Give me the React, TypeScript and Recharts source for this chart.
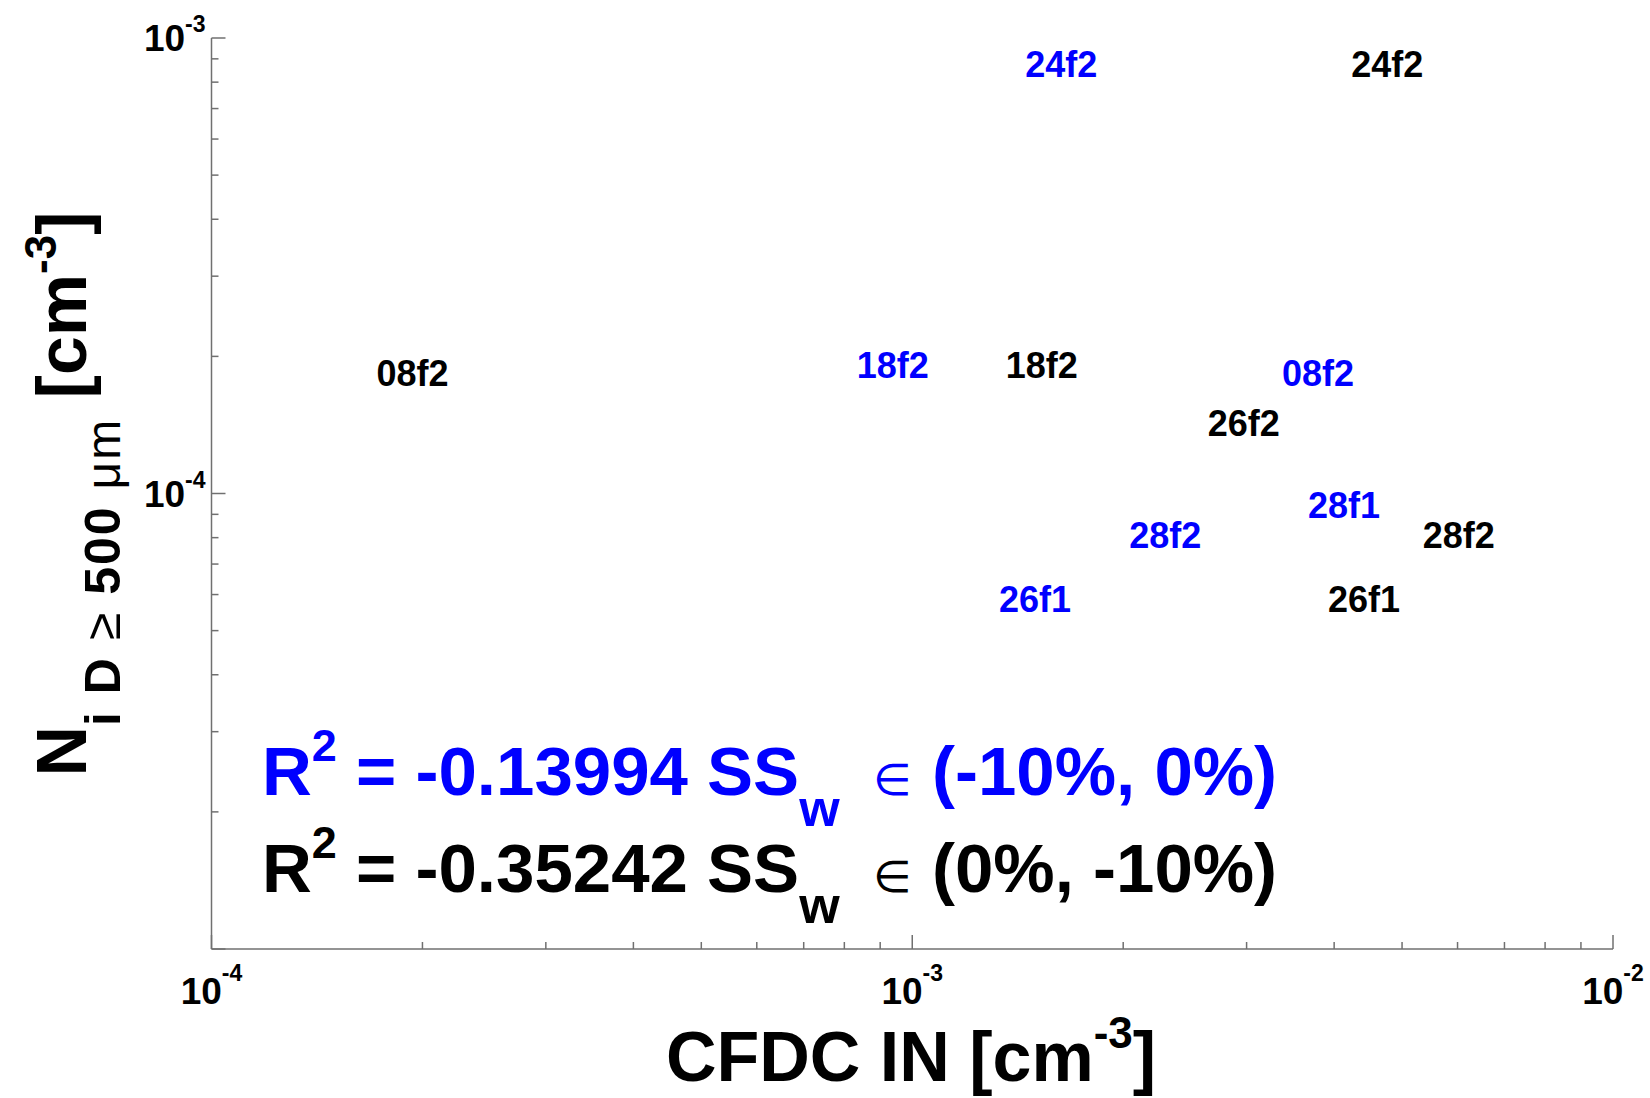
import { ScatterChart, Scatter, XAxis, YAxis, Customized } from "recharts";

const FONT = '"Liberation Sans", Arial, Helvetica, sans-serif';
const SYMBOL_FONT = '"DejaVu Sans", "Liberation Sans", sans-serif';
const AXIS = "#707070";
const BLUE = "#0000ff";
const BLACK = "#000000";

// SS_w in (-10%, 0%)
const blueRuns = ["24f2", "18f2", "08f2", "28f1", "28f2", "26f1"];
const blueCfdc = [1.45e-3, 8.33e-4, 3.37e-3, 3.67e-3, 2.04e-3, 1.33e-3];
const blueNi = [8.75e-4, 1.91e-4, 1.84e-4, 9.45e-5, 8.12e-5, 5.88e-5];

// SS_w in (0%, -10%)
const blackRuns = ["24f2", "08f2", "18f2", "26f2", "28f2", "26f1"];
const blackCfdc = [4.23e-3, 1.72e-4, 1.36e-3, 2.64e-3, 5.35e-3, 3.92e-3];
const blackNi = [8.75e-4, 1.84e-4, 1.91e-4, 1.43e-4, 8.12e-5, 5.88e-5];

// log axes: decades, minor mantissas, and which decades get a label
const xDecades = [1e-4, 1e-3];
const yDecades = [1e-5, 1e-4];
const mantissas = [1, 2, 3, 4, 5, 6, 7, 8, 9];
const xLabelled = [-4, -3, -2];
const yLabelled = [-4, -3];

const xTicks = [...xDecades.flatMap((d) => mantissas.map((m) => m * d)), 1e-2];
const yTicks = [...yDecades.flatMap((d) => mantissas.map((m) => m * d)), 1e-3];

const blueData = blueRuns.map((run, i) => ({ run, x: blueCfdc[i], y: blueNi[i] }));
const blackData = blackRuns.map((run, i) => ({ run, x: blackCfdc[i], y: blackNi[i] }));

const exponentOf = (v: number) => Math.round(Math.log10(v));
const isDecade = (v: number) => Math.abs(Math.log10(v) - exponentOf(v)) < 1e-9;

function XTick({ x, y, payload }: any) {
  const v = payload.value;
  const major = isDecade(v);
  const exp = exponentOf(v);
  return (
    <g>
      <line x1={x} y1={y} x2={x} y2={y - (major ? 14 : 7)} stroke={AXIS} strokeWidth={1.5} />
      {major && xLabelled.includes(exp) && (
        <text x={x} y={y + 55} textAnchor="middle" fontFamily={FONT} fontWeight="bold" fontSize={37} fill={BLACK}>
          10
          <tspan dy={-23} fontSize={23}>{`${exp}`}</tspan>
        </text>
      )}
    </g>
  );
}

function YTick({ x, y, payload }: any) {
  const v = payload.value;
  const major = isDecade(v);
  const exp = exponentOf(v);
  return (
    <g>
      <line x1={x} y1={y} x2={x + (major ? 14 : 7)} y2={y} stroke={AXIS} strokeWidth={1.5} />
      {major && yLabelled.includes(exp) && (
        <text x={x - 6} y={y + 13} textAnchor="end" fontFamily={FONT} fontWeight="bold" fontSize={37} fill={BLACK}>
          10
          <tspan dy={-19} fontSize={23}>{`${exp}`}</tspan>
        </text>
      )}
    </g>
  );
}

// each flight is drawn as its name, left edge on the point
const runLabel = (color: string) => (props: any) => (
  <text x={props.cx} y={props.cy + 13} fill={color} fontFamily={FONT} fontWeight="bold" fontSize={36}>
    {props.payload.run}
  </text>
);

function FitLine({ y, color, r2, range }: { y: number; color: string; r2: string; range: string }) {
  return (
    <text x={262} y={y} fill={color} fontFamily={FONT} fontWeight="bold" fontSize={69}>
      R
      <tspan dy={-34} fontSize={45}>2</tspan>
      <tspan dy={34}>{` = ${r2} SS`}</tspan>
      <tspan dy={31} fontSize={52}>w</tspan>
      <tspan x={873} dy={-31} fontFamily={SYMBOL_FONT} fontWeight="normal" fontSize={44}>
        {"\u2208"}
      </tspan>
      <tspan x={932}>{range}</tspan>
    </text>
  );
}

function Titles() {
  return (
    <g>
      <text x={911} y={1081} textAnchor="middle" fontFamily={FONT} fontWeight="bold" fontSize={70} fill={BLACK}>
        {"CFDC IN [cm"}
        <tspan dy={-33} fontSize={44}>-3</tspan>
        <tspan dy={33}>]</tspan>
      </text>
      <text
        x={86}
        y={494}
        transform="rotate(-90 86 494)"
        textAnchor="middle"
        fontFamily={FONT}
        fontWeight="bold"
        fontSize={70}
        fill={BLACK}
      >
        N
        <tspan dy={34} fontSize={50} letterSpacing={2}>{"i D "}</tspan>
        <tspan fontSize={50} fontWeight="normal" letterSpacing={2}>{"\u2265"}</tspan>
        <tspan fontSize={50} letterSpacing={2}>{" 500 "}</tspan>
        <tspan fontSize={48} fontWeight="normal" letterSpacing={2}>{"\u03bcm"}</tspan>
        <tspan dy={-34}>{" [cm"}</tspan>
        <tspan dy={-30} fontSize={44}>-3</tspan>
        <tspan dy={30}>]</tspan>
      </text>
      <FitLine y={795} color={BLUE} r2="-0.13994" range="(-10%, 0%)" />
      <FitLine y={892} color={BLACK} r2="-0.35242" range="(0%, -10%)" />
    </g>
  );
}

export default function App() {
  return (
    <div style={{ position: "fixed", left: 0, top: 0, width: 1650, height: 1098, background: "#fff" }}>
      <ScatterChart width={1650} height={1098} margin={{ top: 38, right: 37, bottom: 0, left: 0 }}>
        <XAxis
          dataKey="x"
          type="number"
          scale="log"
          domain={[1e-4, 1e-2]}
          allowDataOverflow
          ticks={xTicks}
          interval={0}
          tickSize={0}
          tickMargin={0}
          tickLine={false}
          tick={<XTick />}
          axisLine={{ stroke: AXIS, strokeWidth: 1.5 }}
          height={149}
        />
        <YAxis
          dataKey="y"
          type="number"
          scale="log"
          domain={[1e-5, 1e-3]}
          allowDataOverflow
          ticks={yTicks}
          interval={0}
          tickSize={0}
          tickMargin={0}
          tickLine={false}
          tick={<YTick />}
          axisLine={{ stroke: AXIS, strokeWidth: 1.5 }}
          width={211.5}
        />
        <Scatter data={blueData} fill={BLUE} shape={runLabel(BLUE)} isAnimationActive={false} />
        <Scatter data={blackData} fill={BLACK} shape={runLabel(BLACK)} isAnimationActive={false} />
        <Customized component={Titles} />
      </ScatterChart>
    </div>
  );
}
